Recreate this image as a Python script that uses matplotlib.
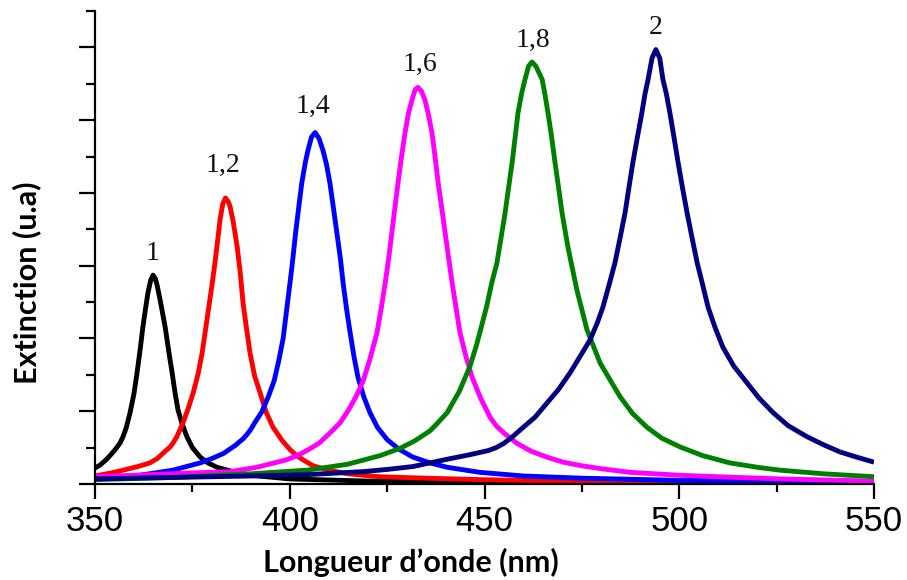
import matplotlib
matplotlib.use('Agg')
import matplotlib.pyplot as plt
from matplotlib.ticker import MultipleLocator, NullFormatter

# ── extinction spectra, one per refractive index ────────────────────────────
wl_1 = [350, 351.3, 353, 355, 356.4, 357.2, 358, 359, 360, 360.8,
        361.6, 362.3, 363, 363.6, 364.3, 364.9, 365.5, 366, 367, 368,
        369, 369.8, 370.5, 371.3, 372.4, 373.6, 375, 377, 379, 381.3,
        385.4, 390, 400, 420, 450, 500, 550]
ext_1 = [0.22, 0.26, 0.34, 0.46, 0.56, 0.65, 0.77, 0.98, 1.24, 1.53,
         1.85, 2.16, 2.42, 2.63, 2.80, 2.87, 2.82, 2.72, 2.45, 2.16,
         1.80, 1.53, 1.27, 1.02, 0.82, 0.65, 0.50, 0.37, 0.29, 0.23,
         0.17, 0.12, 0.07, 0.04, 0.03, 0.02, 0.015]

wl_12 = [350, 354, 357.2, 361, 364.1, 366, 368, 369.3, 370, 371,
         372.6, 374, 375.2, 376.5, 377.5, 379, 380, 380.8, 381.5, 382.1,
         382.8, 383.5, 384.2, 384.7, 385.5, 386.5, 387.3, 388, 389, 389.8,
         391, 392.4, 394, 395.7, 398, 400.1, 402, 404.4, 406, 410,
         415, 423, 435, 449, 470, 500, 550]
ext_12 = [0.11, 0.15, 0.19, 0.24, 0.29, 0.35, 0.45, 0.51, 0.56, 0.65,
          0.84, 1.05, 1.25, 1.52, 1.80, 2.35, 2.72, 3.04, 3.35, 3.63,
          3.85, 3.93, 3.88, 3.81, 3.60, 3.26, 2.90, 2.49, 2.10, 1.80,
          1.48, 1.25, 0.98, 0.78, 0.60, 0.47, 0.38, 0.30, 0.25, 0.19,
          0.14, 0.10, 0.08, 0.06, 0.04, 0.03, 0.02]

wl_14 = [350, 361.5, 370, 377, 380, 383, 386, 388, 389, 390,
         391, 392.8, 394.5, 396, 397.2, 398.3, 399.8, 400.6, 401.5, 402.3,
         403.1, 404, 404.7, 405.6, 406.5, 407.5, 408.5, 409.4, 410.3, 411.2,
         412.1, 413, 413.7, 414.6, 415.5, 416.5, 417.5, 419, 420.6, 422.5,
         425, 428, 431.6, 436, 440.4, 448.8, 460, 475, 500, 525, 550]
ext_14 = [0.08, 0.12, 0.19, 0.29, 0.35, 0.42, 0.53, 0.62, 0.68, 0.75,
          0.84, 0.99, 1.20, 1.42, 1.70, 2.00, 2.65, 3.00, 3.45, 3.80,
          4.14, 4.42, 4.59, 4.77, 4.83, 4.75, 4.59, 4.40, 4.14, 3.80,
          3.45, 3.10, 2.76, 2.40, 2.08, 1.75, 1.47, 1.20, 0.98, 0.78,
          0.61, 0.48, 0.37, 0.29, 0.23, 0.16, 0.11, 0.08, 0.05, 0.04, 0.03]

wl_16 = [350, 360, 374, 384.7, 391.6, 396, 399, 401.9, 404.4, 407.5,
         410.3, 412.9, 415, 417, 418.8, 420.5, 422.4, 423.5, 424.5, 425.4,
         426.2, 427, 427.8, 428.7, 429.6, 430.5, 431.4, 432.2, 432.9, 433.8,
         434.7, 435.6, 436.5, 437.3, 438.1, 439, 439.9, 440.8, 441.7, 442.7,
         443.7, 445.2, 446.8, 449, 451.4, 453, 455, 458.3, 462, 466,
         470.2, 475, 480, 487.4, 500, 515, 526, 550]
ext_16 = [0.10, 0.12, 0.15, 0.17, 0.23, 0.29, 0.33, 0.39, 0.46, 0.56,
          0.70, 0.84, 1.01, 1.20, 1.41, 1.70, 2.08, 2.42, 2.76, 3.10,
          3.45, 3.80, 4.14, 4.50, 4.83, 5.10, 5.28, 5.42, 5.45, 5.40,
          5.28, 5.08, 4.83, 4.50, 4.14, 3.80, 3.45, 3.10, 2.76, 2.42,
          2.08, 1.76, 1.47, 1.18, 0.92, 0.80, 0.70, 0.56, 0.45, 0.37,
          0.30, 0.25, 0.21, 0.16, 0.12, 0.09, 0.07, 0.04]

wl_18 = [350, 370, 390, 404.4, 414.7, 419, 423.2, 428.3, 432, 436,
         438, 440.4, 443.5, 446.3, 448, 449, 450.6, 451.8, 453.2, 454.3,
         455.3, 456.2, 457.1, 457.9, 458.6, 459.5, 460.4, 461.3, 462.2, 463.2,
         464.8, 465.5, 466.3, 467.2, 468.1, 469, 469.9, 471.4, 473.7, 476.3,
         479.7, 484.8, 488, 491.7, 495.5, 500.2, 506, 513, 520, 525.9,
         537, 550]
ext_18 = [0.06, 0.09, 0.14, 0.19, 0.27, 0.33, 0.39, 0.49, 0.59, 0.73,
          0.84, 0.98, 1.27, 1.62, 1.92, 2.12, 2.45, 2.75, 3.04, 3.40,
          3.73, 4.08, 4.42, 4.78, 5.10, 5.36, 5.56, 5.74, 5.80, 5.74,
          5.56, 5.36, 5.10, 4.78, 4.42, 4.08, 3.73, 3.26, 2.67, 2.12,
          1.66, 1.20, 0.97, 0.78, 0.63, 0.51, 0.39, 0.29, 0.23, 0.19,
          0.14, 0.10]

wl_2 = [350, 370, 390, 405, 418.8, 425, 431.6, 436, 440.4, 446,
        451, 453, 455, 457, 459.1, 463, 466, 469, 472, 474.5,
        477.1, 479, 480.4, 482, 483.5, 484.8, 486.1, 487.1, 488.1, 489.3,
        490.4, 491.2, 492, 493, 494, 495, 495.8, 496.7, 497.6, 498.6,
        499.7, 500.8, 502, 503.3, 504.6, 506, 507.4, 509.2, 511.2, 514,
        517.4, 520.5, 524.1, 528, 532.8, 537, 541.3, 545.5, 550]
ext_2 = [0.07, 0.09, 0.11, 0.13, 0.17, 0.20, 0.24, 0.29, 0.34, 0.40,
         0.46, 0.50, 0.56, 0.64, 0.74, 0.92, 1.11, 1.30, 1.53, 1.75,
         1.98, 2.22, 2.43, 2.74, 3.04, 3.38, 3.73, 4.08, 4.42, 4.78,
         5.10, 5.36, 5.56, 5.85, 5.97, 5.85, 5.56, 5.36, 5.10, 4.78,
         4.42, 4.08, 3.73, 3.38, 3.04, 2.74, 2.43, 2.15, 1.88, 1.62,
         1.39, 1.18, 0.98, 0.80, 0.65, 0.54, 0.44, 0.37, 0.30]

index_labels = ['1', '1,2', '1,4', '1,6', '1,8', '2']
curves = [(wl_1, ext_1), (wl_12, ext_12), (wl_14, ext_14),
          (wl_16, ext_16), (wl_18, ext_18), (wl_2, ext_2)]
colors = ['black', '#ff0000', '#0000ff', '#ff00ff', '#008000', '#000080']
# where each index label sits (wavelength, baseline height)
label_pos = [(364.9, 3.08), (382.9, 4.29), (406.0, 5.10),
             (433.4, 5.67), (462.4, 6.01), (494.0, 6.19)]

fig = plt.figure(figsize=(9.07, 5.8), dpi=100)
ax = fig.add_axes([95 / 907, 1 - 484 / 580, (874 - 95) / 907, (484 - 11) / 580])

for (wl, ext), c in zip(curves, colors):
    ax.plot(wl, ext, color=c, lw=3.5, solid_joinstyle='round',
            solid_capstyle='butt')

for lbl, (x, y) in zip(index_labels, label_pos):
    ax.text(x, y, lbl, ha='center', va='baseline', fontsize=20,
            family='Liberation Serif', color='#111111')

ax.set_xlim(350, 550)
ax.set_ylim(0, 6.5)

for side in ('top', 'right'):
    ax.spines[side].set_visible(False)
for side in ('left', 'bottom'):
    ax.spines[side].set_linewidth(1.6)

ax.xaxis.set_major_locator(MultipleLocator(50))
ax.xaxis.set_minor_locator(MultipleLocator(25))
ax.yaxis.set_major_locator(MultipleLocator(1))
ax.yaxis.set_minor_locator(MultipleLocator(0.5))
ax.yaxis.set_major_formatter(NullFormatter())

ax.tick_params(axis='x', which='major', direction='out', length=11, width=1.6,
               labelsize=25, pad=4)
ax.tick_params(axis='x', which='minor', direction='out', length=6, width=1.6)
ax.tick_params(axis='y', which='major', direction='out', length=11.5, width=1.6)
ax.tick_params(axis='y', which='minor', direction='out', length=6.5, width=1.6)
for t in ax.get_xticklabels():
    t.set_family('Liberation Sans')

fig.text(411 / 907, 1 - 562 / 580, 'Longueur d\u2019onde (nm)', ha='center',
         va='center', fontsize=22, fontweight='bold', family='Lato')
fig.text(27 / 907, 1 - 283 / 580, 'Extinction (u.a)', ha='center',
         va='center', rotation=90, fontsize=22, fontweight='bold', family='Lato')

fig.savefig('out.png', dpi=100, facecolor='white')
